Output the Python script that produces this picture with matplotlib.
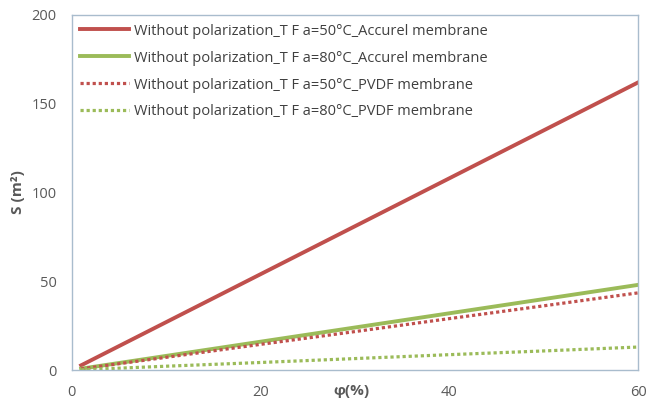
import matplotlib
matplotlib.use("Agg")
import matplotlib.pyplot as plt

# values
phi = [1, 10, 20, 30, 40, 50, 60]
s_accurel_50 = [2.7, 27, 54, 81, 108, 135, 162]
s_accurel_80 = [0.8, 8, 16, 24, 32, 40, 48]
s_pvdf_50 = [0.7, 7.2, 14.5, 21.7, 29, 36.2, 43.5]
s_pvdf_80 = [0.2, 2.2, 4.3, 6.5, 8.7, 10.8, 13]

labels = [
    "Without polarization_T F a=50°C_Accurel membrane",
    "Without polarization_T F a=80°C_Accurel membrane",
    "Without polarization_T F a=50°C_PVDF membrane",
    "Without polarization_T F a=80°C_PVDF membrane",
]

RED = "#C0504D"
GREEN = "#9BBB59"
GRAY = "#595959"

plt.rcParams["font.family"] = ["Open Sans", "DejaVu Sans"]

fig = plt.figure(figsize=(6.46, 4.01), dpi=100)
ax = fig.add_axes([0.111, 0.077, 0.877, 0.886])

dots = (0, (1, 0.9))
ax.plot(phi, s_accurel_50, color=RED, lw=2.8, label=labels[0])
ax.plot(phi, s_accurel_80, color=GREEN, lw=2.8, label=labels[1])
ax.plot(phi, s_pvdf_50, color=RED, lw=2.3, linestyle=dots, label=labels[2])
ax.plot(phi, s_pvdf_80, color=GREEN, lw=2.3, linestyle=dots, label=labels[3])

ax.set_xlim(0, 60)
ax.set_ylim(0, 200)
ax.set_xticks([0, 20, 40, 60])
ax.set_yticks([0, 50, 100, 150, 200])

for sp in ax.spines.values():
    sp.set_color("#A9BCCD")
    sp.set_linewidth(1.0)

ax.tick_params(length=0, colors=GRAY, labelsize=10.5)
ax.tick_params(axis="x", pad=11)
ax.tick_params(axis="y", pad=11)

ax.set_xlabel("φ(%)", fontsize=11, fontweight="bold", color=GRAY)
ax.xaxis.set_label_coords(0.493, -0.04)
fig.text(0.028, 0.52, "S (m²)", rotation=90, ha="center", va="center",
         fontsize=11, fontweight="bold", color=GRAY)

leg = ax.legend(loc="upper left", frameon=False, fontsize=10.5, handlelength=3.3,
                handletextpad=0.4, labelspacing=0.82, borderaxespad=0.2,
                bbox_to_anchor=(0.0, 1.0))
for t in leg.get_texts():
    t.set_color("#404040")

fig.savefig("out.png", dpi=100)
